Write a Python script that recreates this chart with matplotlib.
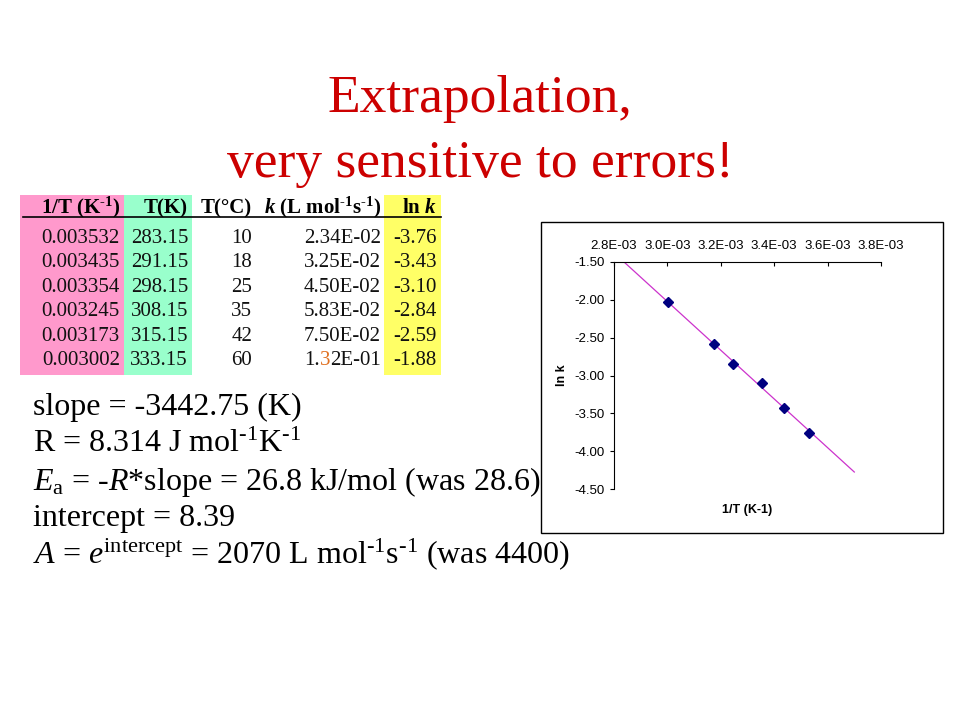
import numpy as np
import matplotlib
matplotlib.use('Agg')
import matplotlib.pyplot as plt
from matplotlib.patches import Rectangle
from matplotlib.ticker import FuncFormatter, MultipleLocator

plt.rcParams['font.family'] = 'Liberation Serif'
plt.rcParams['mathtext.fontset'] = 'custom'
plt.rcParams['mathtext.rm'] = 'Liberation Serif'
plt.rcParams['mathtext.it'] = 'Liberation Serif:italic'
plt.rcParams['mathtext.bf'] = 'Liberation Serif:bold'
plt.rcParams['mathtext.bfit'] = 'Liberation Serif:bold:italic'

# Table data
inv_T = [0.003532, 0.003435, 0.003354, 0.003245, 0.003173, 0.003002]
T_K = [283.15, 291.15, 298.15, 308.15, 315.15, 333.15]
T_C = [10, 18, 25, 35, 42, 60]
k_vals = [2.34e-2, 3.25e-2, 4.50e-2, 5.83e-2, 7.50e-2, 1.32e-1]
ln_k = [-3.76, -3.43, -3.10, -2.84, -2.59, -1.88]
# what the embedded chart actually plots (last point sits near -2.02)
chart_ln_k = [-3.755, -3.426, -3.101, -2.842, -2.590, -2.025]

HY = '\u2010'  # short hyphen for the superscripts
SUP = '$^{' + HY + '1}$'
SUPB = r'$^{\mathbf{' + HY + '1}}$'

headers = ["1/T (K" + SUPB + ")", "T(K)", "T(°C)",
           r"$\mathbfit{k}$ (L mol" + SUPB + "s" + SUPB + ")", r"ln $\mathbfit{k}$"]

title_lines = ["Extrapolation,", "very sensitive to errors!"]

summary_lines = [
    "slope = -3442.75 (K)",
    "R = 8.314 J mol" + SUP + "K" + SUP,
    r"$E_{\mathrm{a}}$ = -$R$*slope = 26.8 kJ/mol (was 28.6)",
    "intercept = 8.39",
    r"$A$ = $e^{\mathrm{intercept}}$ = 2070 L mol" + SUP + "s" + SUP + " (was 4400)",
]

fig = plt.figure(figsize=(9.6, 7.2), dpi=100)

# background axes in pixel coordinates for the slide layout
bg = fig.add_axes([0, 0, 1, 1])
bg.set_xlim(0, 960)
bg.set_ylim(720, 0)
bg.axis('off')

# title
for txt, yb in zip(title_lines, [112, 177]):
    bg.text(480, yb, txt, ha='center', va='baseline', fontsize=38.5, color='#CC0000')

# table backgrounds
bg.add_patch(Rectangle((20, 195), 104, 180, facecolor='#FF99CC', edgecolor='none'))
bg.add_patch(Rectangle((124, 195), 68, 180, facecolor='#99FFCC', edgecolor='none'))
bg.add_patch(Rectangle((384, 195), 57, 180, facecolor='#FFFF66', edgecolor='none'))
bg.plot([23, 441], [217, 217], color='black', lw=1.2)

col_right = [120, 188, 252, 381, 437]
for h, xr in zip(headers, col_right):
    bg.text(xr, 213, h, ha='right', va='baseline', fontsize=15, fontweight='bold')

for i in range(len(inv_T)):
    yb = 243 + 24.4 * i
    cells = [f"{inv_T[i]:.6f}", f"{T_K[i]:.2f}", f"{T_C[i]}", f"{k_vals[i]:.2E}", f"{ln_k[i]:.2f}"]
    for j, (c, xr) in enumerate(zip(cells, col_right)):
        if j == 3 and i == len(inv_T) - 1:
            # last k value has an orange digit: draw it in three pieces
            t3 = bg.text(xr, yb, c[3:], ha='right', va='baseline', fontsize=15, color='#111111')
            t2 = bg.annotate(c[2], xy=(0, 0), xycoords=t3, ha='right', va='bottom',
                             fontsize=15, color='#E07020')
            bg.annotate(c[:2], xy=(0, 0), xycoords=t2, ha='right', va='bottom',
                        fontsize=15, color='#111111')
        else:
            bg.text(xr, yb, c, ha='right', va='baseline', fontsize=15, color='#111111')

# summary text
for txt, yb in zip(summary_lines, [415, 452, 490, 526, 563]):
    bg.text(33, yb, txt, ha='left', va='baseline', fontsize=23)

# chart box
bg.add_patch(Rectangle((541, 222), 402, 311, facecolor='white', edgecolor='black', lw=1))

# chart
ax = fig.add_axes([614 / 960, 1 - 489 / 720, (881 - 614) / 960, (489 - 262) / 720])
ax.set_facecolor('none')
slope, intercept = np.polyfit(inv_T, chart_ln_k, 1)
x_fit = np.array([0.0028, 0.0037])
ax.plot(x_fit, slope * x_fit + intercept, color='#CC33CC', lw=0.9)
ax.plot(inv_T, chart_ln_k, 'D', color='#000080', ms=5, mec='#000080')
ax.set_xlim(0.0028, 0.0038)
ax.set_ylim(-4.5, -1.5)
ax.xaxis.set_major_locator(MultipleLocator(0.0002))
ax.yaxis.set_major_locator(MultipleLocator(0.5))
ax.xaxis.set_major_formatter(FuncFormatter(lambda v, p: f"{v:.1E}"))
ax.yaxis.set_major_formatter(FuncFormatter(lambda v, p: f"{v:.2f}"))
ax.xaxis.tick_top()
ax.spines['bottom'].set_visible(False)
ax.spines['right'].set_visible(False)
ax.tick_params(axis='x', direction='in', length=3, pad=7, labelsize=9.5)
ax.tick_params(axis='y', direction='out', length=3, pad=4, labelsize=9.5)
for lab in ax.get_xticklabels() + ax.get_yticklabels():
    lab.set_family('Liberation Sans')

bg.text(562, 375, 'ln k', rotation=90, ha='center', va='center', fontsize=9,
        fontweight='bold', family='Liberation Sans')
bg.text(747, 510, '1/T (K-1)', ha='center', va='center', fontsize=9,
        fontweight='bold', family='Liberation Sans')

fig.savefig('out.png', dpi=100)
